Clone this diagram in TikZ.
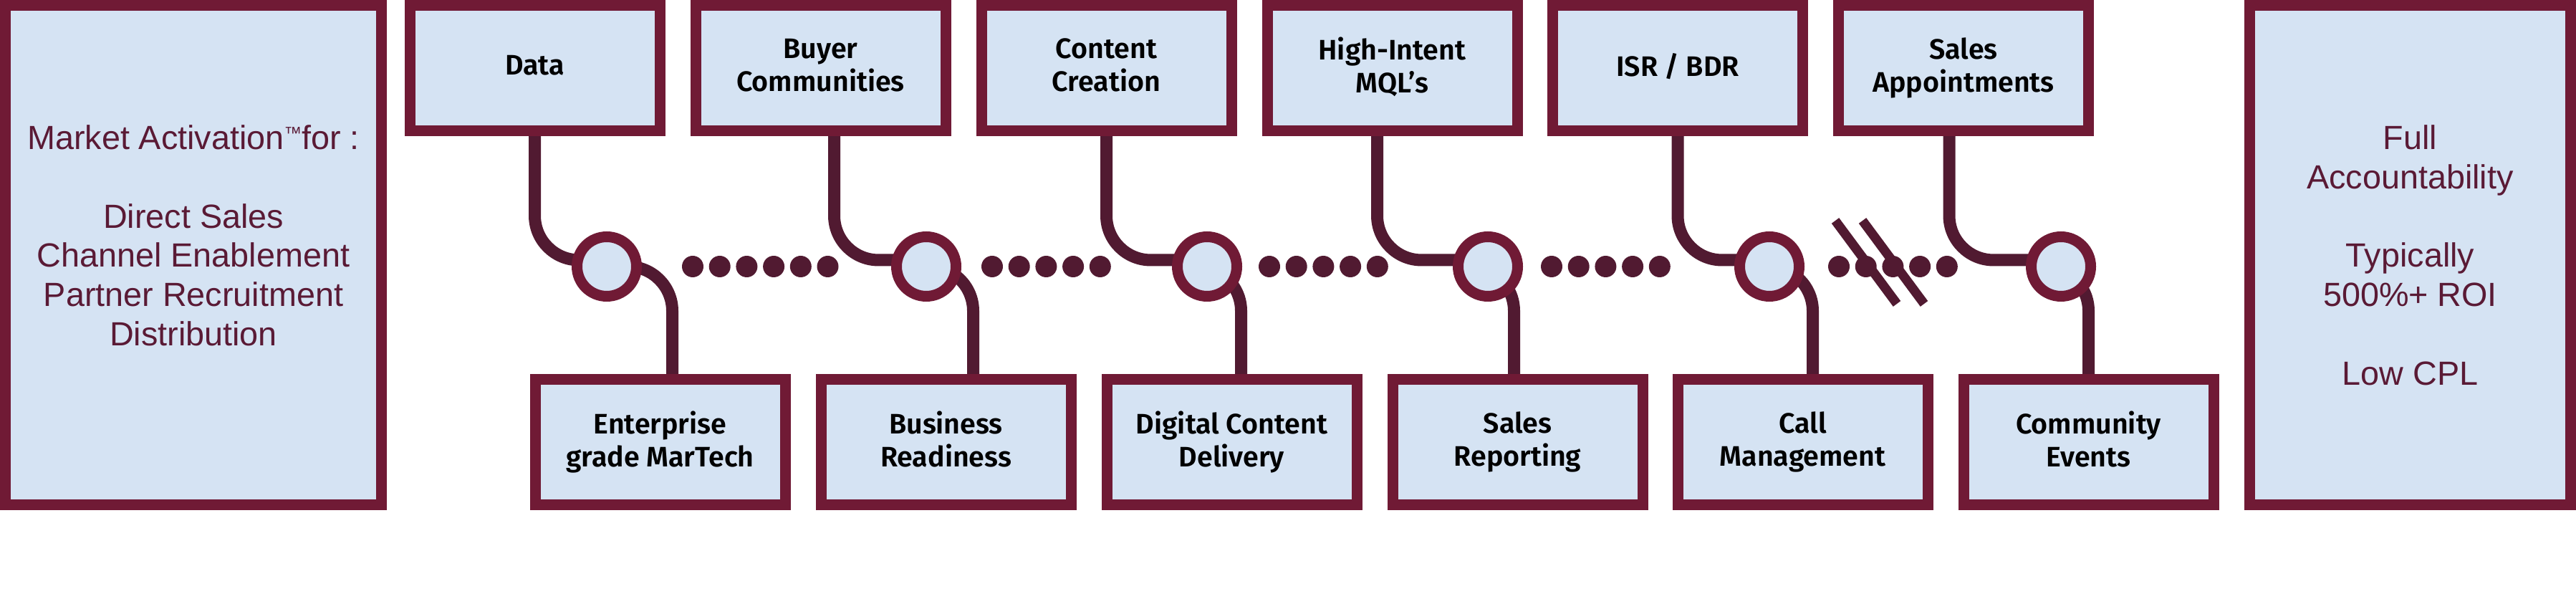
\documentclass[tikz,border=0pt]{standalone}
\usepackage{fontspec}
\setsansfont{Fira Sans}[BoldFont={Fira Sans SemiBold}]
\newfontfamily\sidefont{Liberation Sans}
\usepackage{xcolor}
\usetikzlibrary{backgrounds}
\definecolor{mktborder}{HTML}{701A35}
\definecolor{mktline}{HTML}{511A31}
\definecolor{mktfill}{HTML}{D5E3F3}
\definecolor{mkttext}{HTML}{5A1A35}
\newcommand{\mktbw}{3.49cm}
\newcommand{\mktbh}{1.75cm}
\newcommand{\mktrowa}{7.48}
\newcommand{\mktrowb}{2.26}
\newcommand{\mktrowc}{4.71}
\newcommand{\mktdotd}{0.377}
\tikzset{
  mktbox/.style={draw=mktborder, fill=mktfill, line width=0.15cm,
    minimum width=\mktbw, minimum height=\mktbh, inner sep=0pt,
    align=center, font=\sffamily\bfseries\fontsize{11.2}{13.2}\selectfont,
    execute at end node={\vphantom{g}}},
  mktside/.style={draw=mktborder, fill=mktfill, line width=0.15cm,
    minimum height=6.97cm, inner sep=0pt, align=center, text=mkttext,
    font=\sidefont\fontsize{13.3}{15.6}\selectfont},
  mkthub/.style={circle, draw=mktborder, fill=mktfill, line width=0.15cm,
    minimum size=0.83cm, inner sep=0pt},
  mktconn/.style={draw=mktline, line width=0.17cm, rounded corners=0.62cm},
  mktdot/.style={fill=mktline},
  mktcut/.style={draw=mktline, line width=0.13cm}
}

\begin{document}
\begin{tikzpicture}
    \useasboundingbox (0,0) rectangle (35.96,8.43);

    % side panels
    \node (mkt) at (2.70,4.87) [mktside, minimum width=5.25cm]
      {Market Activation{\fontsize{7}{7}\selectfont\raisebox{0.55em}{™}}for :\\
       \mbox{}\\ Direct Sales\\ Channel Enablement\\ Partner Recruitment\\
       Distribution\\ \mbox{}};
    \node (roi) at (33.645,4.87) [mktside, minimum width=4.48cm]
      {Full\\ Accountability\\ \mbox{}\\ Typically\\ 500\%+ ROI\\ \mbox{}\\ Low CPL};

    % top row
    \node (t1) at (7.465,\mktrowa) [mktbox] {Data};
    \node (t2) at (11.455,\mktrowa) [mktbox] {Buyer\\ Communities};
    \node (t3) at (15.445,\mktrowa) [mktbox] {Content\\ Creation};
    \node (t4) at (19.435,\mktrowa) [mktbox] {High-Intent\\ MQL’s};
    \node (t5) at (23.42,\mktrowa) [mktbox] {ISR / BDR};
    \node (t6) at (27.41,\mktrowa) [mktbox] {Sales\\ Appointments};

    % bottom row
    \node (b1) at (9.215,\mktrowb) [mktbox] {Enterprise\\ grade MarTech};
    \node (b2) at (13.205,\mktrowb) [mktbox] {Business\\ Readiness};
    \node (b3) at (17.195,\mktrowb) [mktbox] {Digital Content\\ Delivery};
    \node (b4) at (21.185,\mktrowb) [mktbox] {Sales\\ Reporting};
    \node (b5) at (25.165,\mktrowb) [mktbox] {Call\\ Management};
    \node (b6) at (29.155,\mktrowb) [mktbox] {Community\\ Events};

    % hubs
    \node (h1) at (8.47,\mktrowc) [mkthub] {};
    \node (h2) at (12.93,\mktrowc) [mkthub] {};
    \node (h3) at (16.85,\mktrowc) [mkthub] {};
    \node (h4) at (20.77,\mktrowc) [mkthub] {};
    \node (h5) at (24.70,\mktrowc) [mkthub] {};
    \node (h6) at (28.77,\mktrowc) [mkthub] {};

    % dotted runs
    \foreach \i in {0,...,5}
      \fill[mktdot] ({9.67+\i*\mktdotd},\mktrowc) circle (0.15);
    \foreach \x in {13.85,17.72,21.66,25.67}
      \foreach \i in {0,...,4}
        \fill[mktdot] ({\x+\i*\mktdotd},\mktrowc) circle (0.15);
    \draw[mktcut] (25.62,5.35) -- (26.48,4.19);
    \draw[mktcut] (26.00,5.35) -- (26.86,4.19);

    \begin{scope}[on background layer]
      \draw[mktconn] (t1.south) |- ([yshift=0.09cm]h1.center);
      \draw[mktconn] ([xshift=0.19cm]t2.south) |- ([yshift=0.09cm]h2.center);
      \draw[mktconn] (t3.south) |- ([yshift=0.09cm]h3.center);
      \draw[mktconn] ([xshift=-0.21cm]t4.south) |- ([yshift=0.09cm]h4.center);
      \draw[mktconn] (t5.south) |- ([yshift=0.09cm]h5.center);
      \draw[mktconn] ([xshift=-0.20cm]t6.south) |- ([yshift=0.09cm]h6.center);

      \draw[mktconn] (h1.center) -| ([xshift=0.17cm]b1.north);
      \draw[mktconn] (h2.center) -| ([xshift=0.38cm]b2.north);
      \draw[mktconn] (h3.center) -| ([xshift=0.13cm]b3.north);
      \draw[mktconn] (h4.center) -| ([xshift=-0.05cm]b4.north);
      \draw[mktconn] (h5.center) -| ([xshift=0.14cm]b5.north);
      \draw[mktconn] (h6.center) -| (b6.north);
    \end{scope}
\end{tikzpicture}
\end{document}
